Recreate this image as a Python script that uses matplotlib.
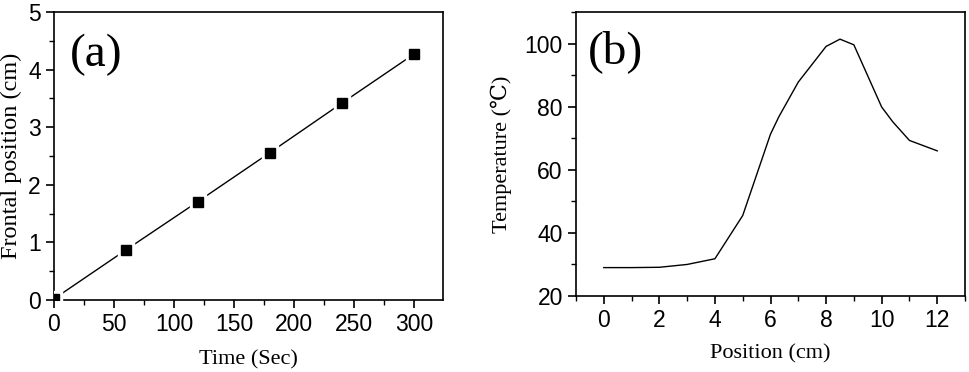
import matplotlib
matplotlib.use('Agg')
import matplotlib.pyplot as plt
from matplotlib.ticker import MultipleLocator

# panel (a): frontal position vs time
time_sec = [0, 60, 120, 180, 240, 300]
front_pos = [0.02, 0.87, 1.71, 2.56, 3.42, 4.27]

# panel (b): temperature profile along the tube
position_cm = [0, 1, 2, 3, 4, 5, 6, 6.3, 7, 8, 8.5, 9, 10, 10.4, 11, 12]
temperature = [29, 29, 29.1, 30, 31.8, 45.5, 71.3, 76.8, 87.8, 99.1, 101.4, 99.6, 79.9, 75.2, 69.3, 66]

serif = ['Liberation Serif', 'DejaVu Serif']
sans = ['Liberation Sans', 'DejaVu Sans']

fig = plt.figure(figsize=(9.69, 3.72), dpi=100)
ax1 = fig.add_axes([0.0557, 0.1935, 0.4013, 0.7742])
ax2 = fig.add_axes([0.5944, 0.2043, 0.4015, 0.7634])


def style_axis(ax):
    for s in ax.spines.values():
        s.set_linewidth(1.2)
    ax.tick_params(which='major', direction='out', length=6, width=1.2,
                   labelsize=16.5, top=False, right=False)
    ax.tick_params(which='minor', direction='out', length=3.5, width=1.0,
                   top=False, right=False)
    for lab in ax.get_xticklabels() + ax.get_yticklabels():
        lab.set_family(sans)


# (a)
ax1.plot(time_sec, front_pos, color='k', lw=1.0)
ax1.plot(time_sec, front_pos, 's', ms=12, color='white', zorder=3)
ax1.plot(time_sec, front_pos, 's', ms=7, color='k', zorder=4)
ax1.set_xlim(0, 324)
ax1.set_ylim(0, 5)
ax1.xaxis.set_major_locator(MultipleLocator(50))
ax1.xaxis.set_minor_locator(MultipleLocator(25))
ax1.yaxis.set_major_locator(MultipleLocator(1))
ax1.yaxis.set_minor_locator(MultipleLocator(0.5))
style_axis(ax1)
ax1.set_xlabel('Time (Sec)', family=serif, fontsize=16, labelpad=10)
ax1.set_ylabel('Frontal position (cm)', family=serif, fontsize=17.5, labelpad=4)
ax1.text(0.04, 0.85, '(a)', transform=ax1.transAxes, family=serif,
         fontsize=34, va='center', ha='left')

# (b)
ax2.plot(position_cm, temperature, color='k', lw=1.0)
ax2.set_xlim(-1, 13)
ax2.set_ylim(20, 110)
ax2.xaxis.set_major_locator(MultipleLocator(2))
ax2.xaxis.set_minor_locator(MultipleLocator(1))
ax2.yaxis.set_major_locator(MultipleLocator(20))
ax2.yaxis.set_minor_locator(MultipleLocator(10))
style_axis(ax2)
ax2.set_xlabel('Position (cm)', family=serif, fontsize=16, labelpad=9)
ax2.set_ylabel('Temperature (\u2103)', family=serif, fontsize=16, labelpad=9)
ax2.text(0.03, 0.86, '(b)', transform=ax2.transAxes, family=serif,
         fontsize=34, va='center', ha='left')

fig.savefig('out.png', dpi=100)
